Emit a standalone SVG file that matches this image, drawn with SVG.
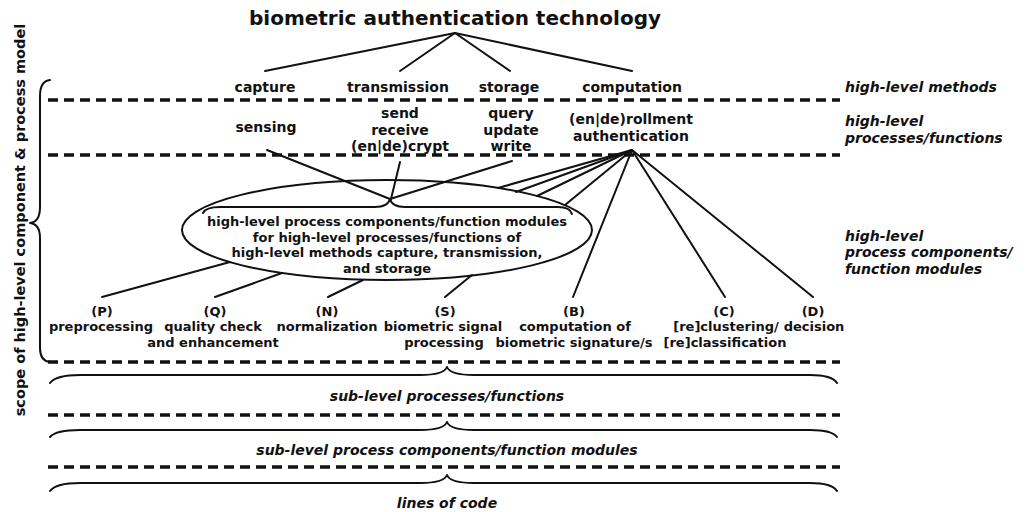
<svg xmlns="http://www.w3.org/2000/svg" width="1029" height="512" viewBox="0 0 1029 512">
<style>
.t{font-family:"DejaVu Sans",Verdana,sans-serif;font-weight:bold;text-anchor:middle;fill:#111}
.s20{font-size:20px}
.s14{font-size:14px}
.s13{font-size:13px}
.it{font-style:italic;font-size:14px}
.st{text-anchor:start}
.ln{stroke:#111;stroke-width:2;fill:none;stroke-linecap:round}
.dash{stroke:#111;stroke-width:3.5;stroke-dasharray:10 6;fill:none}
.br{stroke:#111;stroke-width:2;fill:none;stroke-linecap:round;stroke-linejoin:round}
</style>
<rect width="1029" height="512" fill="#fff"/>

<g id="layers">
<line class="dash" x1="48" y1="100" x2="840" y2="100"/>
<line class="dash" x1="48" y1="155" x2="840" y2="155"/>
<line class="dash" x1="48" y1="362" x2="840" y2="362"/>
<line class="dash" x1="48" y1="415" x2="840" y2="415"/>
<line class="dash" x1="48" y1="467" x2="840" y2="467"/>
<path class="br" d="M50,80 Q40,81 40,96 L40,207 Q40,222 30,223 Q40,224 40,238 L40,348 Q40,361 50,362"/>
<path class="br" d="M50,383 Q56,375 80,375 L420,375 Q444,375 447,367 Q450,375 474,375 L810,375 Q832,375 837,383"/>
<path class="br" d="M50,437 Q56,430 80,430 L420,430 Q444,430 447,422 Q450,430 474,430 L810,430 Q832,430 837,437"/>
<path class="br" d="M50,491 Q56,483 80,483 L420,483 Q444,483 447,475 Q450,483 474,483 L810,483 Q832,483 837,491"/>
</g>

<g id="labels-side">
<text class="t" font-size="14.5" transform="translate(25,220) rotate(-90)">scope of high-level component &amp; process model</text>
<text class="t it st" x="845" y="92">high-level methods</text>
<text class="t it st" x="845" y="126">high-level</text>
<text class="t it st" x="845" y="143">processes/functions</text>
<text class="t it st" x="845" y="241">high-level</text>
<text class="t it st" x="845" y="257">process components/</text>
<text class="t it st" x="845" y="274">function modules</text>
<text class="t it" x="447" y="401">sub-level processes/functions</text>
<text class="t it" x="447" y="455">sub-level process components/function modules</text>
<text class="t it" x="447" y="508">lines of code</text>
</g>

<g id="connectors">
<line class="ln" x1="455" y1="33" x2="265" y2="71"/>
<line class="ln" x1="455" y1="33" x2="400" y2="71"/>
<line class="ln" x1="455" y1="33" x2="510" y2="71"/>
<line class="ln" x1="455" y1="33" x2="632" y2="71"/>
<line class="ln" x1="267" y1="150" x2="390" y2="199"/>
<line class="ln" x1="400" y1="162" x2="391" y2="199"/>
<line class="ln" x1="512" y1="161" x2="390" y2="199"/>
<line class="ln" x1="632" y1="150" x2="498" y2="188"/>
<line class="ln" x1="632" y1="150" x2="516" y2="192"/>
<line class="ln" x1="632" y1="150" x2="537" y2="196"/>
<line class="ln" x1="632" y1="150" x2="565" y2="205"/>
<line class="ln" x1="632" y1="150" x2="573" y2="297"/>
<line class="ln" x1="632" y1="150" x2="725" y2="297"/>
<line class="ln" x1="632" y1="150" x2="813" y2="297"/>
<line class="ln" x1="230" y1="262" x2="102" y2="297"/>
<line class="ln" x1="282" y1="273" x2="215" y2="297"/>
<line class="ln" x1="363" y1="280" x2="328" y2="297"/>
<line class="ln" x1="472" y1="275" x2="445" y2="297"/>
</g>

<g id="title"><text class="t s20" x="455" y="25">biometric authentication technology</text></g>

<g id="capture"><text class="t s14" x="265" y="92">capture</text></g>
<g id="transmission"><text class="t s14" x="398" y="92">transmission</text></g>
<g id="storage"><text class="t s14" x="509" y="92">storage</text></g>
<g id="computation"><text class="t s14" x="632" y="92">computation</text></g>

<g id="sensing"><text class="t s14" x="266" y="132">sensing</text></g>
<g id="send-receive"><text class="t s14" x="400" y="118">send</text><text class="t s14" x="400" y="135">receive</text><text class="t s14" x="400" y="151">(en|de)crypt</text></g>
<g id="query-update"><text class="t s14" x="511" y="118">query</text><text class="t s14" x="511" y="135">update</text><text class="t s14" x="511" y="151">write</text></g>
<g id="enrollment"><text class="t s14" x="631" y="124">(en|de)rollment</text><text class="t s14" x="631" y="141">authentication</text></g>

<g id="modules">
<ellipse cx="387" cy="230" rx="205" ry="50" fill="none" stroke="#111" stroke-width="2"/>
<path class="br" d="M203,213 Q206,207 220,207 L375,207 Q388,207 390,199 Q392,207 405,207 L558,207 Q570,207 572,214"/>
<text class="t s13" x="387" y="226">high-level process components/function modules</text>
<text class="t s13" x="387" y="242">for high-level processes/functions of</text>
<text class="t s13" x="387" y="257">high-level methods capture, transmission,</text>
<text class="t s13" x="387" y="273">and storage</text>
</g>

<g id="P"><text class="t s13" x="102" y="316">(P)</text><text class="t s13" x="101" y="331">preprocessing</text></g>
<g id="Q"><text class="t s13" x="215" y="316">(Q)</text><text class="t s13" x="213" y="331">quality check</text><text class="t s13" x="213" y="347">and enhancement</text></g>
<g id="N"><text class="t s13" x="327" y="316">(N)</text><text class="t s13" x="327" y="331">normalization</text></g>
<g id="S"><text class="t s13" x="445" y="316">(S)</text><text class="t s13" x="443" y="331">biometric signal</text><text class="t s13" x="444" y="347">processing</text></g>
<g id="B"><text class="t s13" x="574" y="316">(B)</text><text class="t s13" x="575" y="331">computation of</text><text class="t s13" x="574" y="347">biometric signature/s</text></g>
<g id="C"><text class="t s13" x="724" y="316">(C)</text><text class="t s13" x="726" y="331">[re]clustering/</text><text class="t s13" x="725" y="347">[re]classification</text></g>
<g id="D"><text class="t s13" x="813" y="316">(D)</text><text class="t s13" x="814" y="331">decision</text></g>
</svg>
